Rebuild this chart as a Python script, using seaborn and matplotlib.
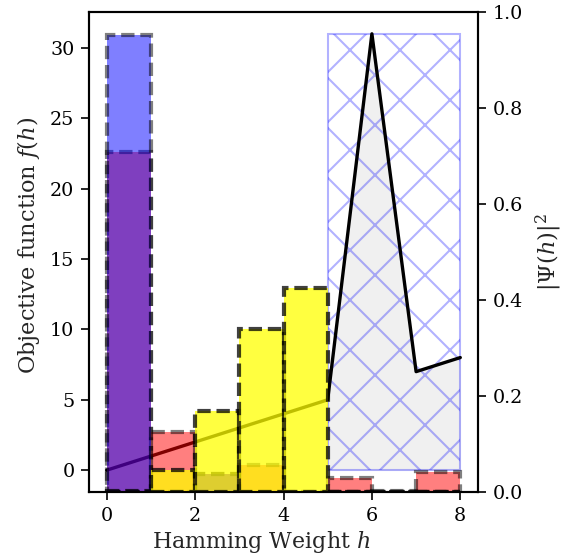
import numpy as np
import matplotlib
matplotlib.use("Agg")
import matplotlib.pyplot as plt
import seaborn as sns

sns.set_style("ticks")
plt.rcParams['font.family'] = ['DejaVu Serif']
plt.rcParams['mathtext.fontset'] = 'dejavuserif'
plt.rcParams['font.size'] = 4.6
plt.rcParams['hatch.linewidth'] = 0.5

# objective f(h) over hamming weight
h = np.arange(9)
f_h = [0, 1, 2, 3, 4, 5, 31, 7, 8]

# probability |Psi(h)|^2 per weight bin (bins h..h+1)
h_bins = np.arange(8)
prob_red = [0.708, 0.125, 0.037, 0.056, 0.0, 0.030, 0.002, 0.042]
prob_blue = [0.952, 0.0, 0.037, 0.0, 0.0, 0.0, 0.0, 0.0]
prob_yellow = [0.003, 0.046, 0.169, 0.340, 0.426, 0.0, 0.0, 0.0]

dash = (0, (3.2, 1.4))

fig, ax1 = plt.subplots(figsize=(567 / 300, 557 / 300), dpi=300)
fig.subplots_adjust(left=0.157, right=0.843, top=0.9785, bottom=0.1167)

# shaded region under f for h >= 5
ax1.fill_between(h[5:], f_h[5:], color='0.94', lw=0)
ax1.bar(5, max(f_h), width=3, align='edge', fill=False, hatch='xx',
        edgecolor='blue', alpha=0.3, linewidth=0.5)
sns.lineplot(x=h, y=f_h, ax=ax1, color='black', linewidth=0.8, zorder=3)

ax1.set_xlim(-0.4, 8.4)
ax1.set_ylim(-1.55, 32.55)
ax1.set_yticks([0, 5, 10, 15, 20, 25, 30])
ax1.set_xlabel('Hamming Weight $h$', fontsize=5.3, labelpad=1.0)
ax1.set_ylabel('Objective function $f(h)$', fontsize=5.4, labelpad=2)
ax1.xaxis.label.set_x(0.442)
ax1.yaxis.label.set_y(0.513)

ax2 = ax1.twinx()
centers = h_bins + 0.5
sns.barplot(x=centers, y=prob_red, ax=ax2, native_scale=True, width=1,
            color='red', saturation=1, alpha=0.5, edgecolor='black',
            linestyle=dash, linewidth=1.0, errorbar=None)
sns.barplot(x=centers, y=prob_blue, ax=ax2, native_scale=True, width=1,
            color='blue', saturation=1, alpha=0.5, edgecolor='black',
            linestyle=dash, linewidth=1.0, errorbar=None)
sns.barplot(x=centers, y=prob_yellow, ax=ax2, native_scale=True, width=1,
            color='yellow', saturation=1, alpha=0.75, edgecolor='black',
            linestyle=dash, linewidth=1.0, errorbar=None)
ax2.set_ylim(0, 1)
ax2.set_yticks([0.0, 0.2, 0.4, 0.6, 0.8, 1.0])
ax2.set_ylabel(r'$|\Psi(h)|^2$', fontsize=5.4, labelpad=2.5)
ax1.set_xlim(-0.4, 8.4)
ax1.set_xticks([0, 2, 4, 6, 8])
ax1.set_xticklabels(['0', '2', '4', '6', '8'])

for ax in (ax1, ax2):
    for sp in ax.spines.values():
        sp.set_linewidth(0.5)
        sp.set_color('black')
    ax.tick_params(length=2, width=0.4, pad=1.5, colors='black', labelsize=4.6)

fig.savefig('out.png', dpi=300)
